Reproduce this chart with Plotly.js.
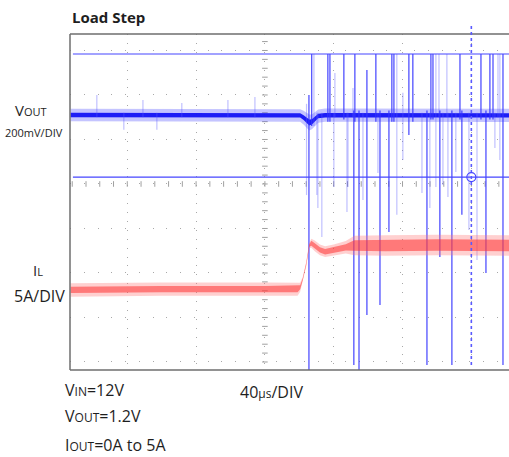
<!DOCTYPE html>
<html>
<head>
<meta charset="utf-8">
<script src="https://cdn.plot.ly/plotly-3.0.1.min.js"></script>
<style>html,body{margin:0;padding:0;background:#fff;}#chart{width:509px;height:457px;}</style>
</head>
<body>
<div id="chart"></div>
<script>
// ---- Data (time in µs, Vout in V, IL in A) ----
const voutT      = [-113, -60, 0, 18, 20.5, 22.5, 24.5, 25.8, 27.3, 29, 31, 35, 60, 100, 142];
const voutMid    = [1.200, 1.200, 1.200, 1.200, 1.198, 1.188, 1.174, 1.166, 1.169, 1.182, 1.195, 1.199, 1.198, 1.199, 1.198];
const voutOuter  = [0.028, 0.028, 0.028, 0.028, 0.028, 0.031, 0.033, 0.036, 0.033, 0.031, 0.030, 0.030, 0.030, 0.030, 0.030];
const voutCore   = [0.010, 0.010, 0.010, 0.010, 0.010, 0.011, 0.012, 0.013, 0.012, 0.011, 0.010, 0.010, 0.010, 0.010, 0.010];

const ilT        = [-113, -60, 0, 19, 20.5, 22, 24, 25.8, 27, 29, 32, 35, 40, 47, 52, 70, 100, 142];
const ilMid      = [0.0, 0.1, 0.1, 0.1, 0.3, 1.2, 2.9, 5.0, 5.25, 4.95, 4.5, 4.3, 4.5, 4.8, 5.0, 5.0, 5.05, 5.0];
const ilOuter    = [0.75, 0.75, 0.75, 0.75, 0.5, 0.25, 0.25, 0.3, 0.5, 0.6, 0.6, 0.6, 0.6, 0.7, 1.1, 1.15, 1.15, 1.15];
const ilCore     = [0.35, 0.35, 0.35, 0.35, 0.22, 0.12, 0.12, 0.15, 0.28, 0.3, 0.3, 0.3, 0.3, 0.35, 0.6, 0.65, 0.65, 0.65];

// strong switching spikes on Vout
const spikeT  = [25.6, 27.2, 36.6, 37.8, 45.9, 51.7, 52.3, 54.7, 59.3, 64.5, 66.9, 72.1, 73.8, 75.0, 83.7, 86.0, 94.2, 96.5, 97.7, 101.7, 108.7, 113.4, 114.5, 125.6, 128.5, 130.8, 132.6, 138.4];
const spikeHi = [1.290, 1.474, 1.474, 1.474, 1.474, 1.22, 1.474, 1.22, 1.402, 1.474, 1.22, 1.22, 1.474, 1.474, 1.474, 1.474, 1.22, 1.474, 1.474, 1.22, 1.22, 1.474, 1.22, 1.474, 1.22, 1.474, 1.474, 1.474];
const spikeLo = [0.054, 1.15, 1.17, 1.17, 1.18, 0.0765, 1.17, 0.054, 0.301, 1.17, 0.346, 0.674, 1.17, 1.17, 1.110, 1.17, 0.0765, 1.18, 1.18, 0.562, 0.0765, 1.18, 0.751, 1.18, 0.490, 1.18, 1.18, 0.0765];
// faint spikes on Vout
const faintT  = [-97.7, -82.0, -70.9, -62.8, -48.3, -21.5, -5.8, 24.2, 28.5, 30.2, 30.8, 33.1, 40.1, 40.7, 47.7, 48.3, 51.2, 57.0, 65.7, 76.7, 80.2, 91.3, 95.9, 99.4, 101.2, 103.5, 105.8, 106.4, 111.0, 118.6, 123.3, 133.7, 135.5, 136.6];
const faintHi = [1.290, 1.21, 1.267, 1.21, 1.254, 1.267, 1.281, 1.25, 1.474, 1.21, 1.21, 1.21, 1.21, 1.389, 1.21, 1.21, 1.321, 1.21, 1.21, 1.474, 1.30, 1.21, 1.21, 1.474, 1.474, 1.21, 1.474, 1.21, 1.21, 1.21, 1.21, 1.21, 1.474, 1.474];
const faintLo = [1.19, 1.133, 1.19, 1.133, 1.19, 1.19, 1.19, 0.84, 1.15, 0.84, 0.782, 0.652, 0.876, 1.19, 0.764, 0.876, 1.19, 0.818, 0.939, 0.751, 0.998, 0.849, 0.782, 0.876, 1.19, 0.885, 1.19, 0.831, 0.944, 0.683, 0.548, 1.052, 1.19, 0.998];

// cursors
const cursorV = [1.474, 0.921];   // horizontal cursors (V)
const cursorT = 120;              // vertical cursor (µs)

// ---- helpers ----
const add = (a, b, s) => a.map((v, i) => v + s * b[i]);
function segs(t, hi, lo) {
  const x = [], y = [];
  t.forEach((v, i) => { x.push(v, v, null); y.push(hi[i], lo[i], null); });
  return {x, y};
}
function band(t, mid, hw, yaxis, color) {
  return [
    {x: t, y: add(mid, hw, -1), yaxis, type: 'scatter', mode: 'lines', line: {width: 0}, hoverinfo: 'skip'},
    {x: t, y: add(mid, hw, 1), yaxis, type: 'scatter', mode: 'lines', line: {width: 0}, fill: 'tonexty', fillcolor: color, hoverinfo: 'skip'}
  ];
}

// graticule centre ticks (decoration)
const cvY = [], cvX = [];
for (let d = -4.2; d <= 3.61; d += 0.2) { cvY.push(d); cvX.push(0); }
const chX = [], chY = [];
for (let t = -112; t <= 142; t += 8) { chX.push(t); chY.push(0); }

const sp = segs(spikeT, spikeHi, spikeLo);
const fs = segs(faintT, faintHi, faintLo);

const traces = [
  {x: cvX, y: cvY, type: 'scatter', mode: 'markers', cliponaxis: false,
   marker: {symbol: 'line-ew', size: 4, line: {width: 1, color: '#a0a0a0'}}, hoverinfo: 'skip'},
  {x: chX, y: chY, type: 'scatter', mode: 'markers',
   marker: {symbol: 'line-ns', size: 4, line: {width: 1, color: '#a0a0a0'}}, hoverinfo: 'skip'},
  {x: [-80, -40, 40, 80], y: [3.57, 3.57, 3.57, 3.57], type: 'scatter', mode: 'markers', cliponaxis: false,
   marker: {symbol: 'square', size: 1.5, color: '#aaa'}, hoverinfo: 'skip'},
  ...band(ilT, ilMid, ilOuter, 'y3', 'rgba(255,120,120,0.35)'),
  ...band(ilT, ilMid, ilCore, 'y3', 'rgba(255,50,50,0.55)'),
  ...band(voutT, voutMid, voutOuter, 'y2', 'rgba(60,60,255,0.3)'),
  ...band(voutT, voutMid, voutCore, 'y2', 'rgba(20,20,245,0.95)'),
  {x: fs.x, y: fs.y, yaxis: 'y2', type: 'scatter', mode: 'lines', connectgaps: false,
   line: {width: 1.2, color: 'rgba(90,90,255,0.38)'}, hoverinfo: 'skip'},
  {x: sp.x, y: sp.y, yaxis: 'y2', type: 'scatter', mode: 'lines', connectgaps: false,
   line: {width: 1.3, color: 'rgba(50,50,255,0.85)'}, hoverinfo: 'skip'}
];

const W = 509, H = 457, L = 70, T = 34, B = 87;
const pw = W - L, ph = H - T - B;
const px = v => (v - L) / pw;
const py = v => (H - B - v) / ph;

const txt = '#1e1e1e';
const ann = (text, x, y, size, extra) => Object.assign({
  text, xref: 'paper', yref: 'paper', x: px(x), y: py(y), xanchor: 'left', yanchor: 'middle',
  showarrow: false, font: {family: 'Open Sans, sans-serif', size, color: txt}
}, extra || {});
const sm = s => `<span style="font-size:12px">${s}</span>`;

const layout = {
  width: W, height: H,
  margin: {l: L, r: 0, t: T, b: B},
  paper_bgcolor: '#fff', plot_bgcolor: '#fff',
  showlegend: false,
  xaxis: {range: [-113.3, 141.9], tick0: 0, dtick: 40, showticklabels: false, ticks: '',
          showgrid: true, gridcolor: '#a8a8a8', gridwidth: 1, griddash: '1px,7.9px', zeroline: false, showline: false},
  yaxis: {range: [-4.18, 3.37], tick0: 0, dtick: 1, showticklabels: false, ticks: '',
          showgrid: true, gridcolor: '#a8a8a8', gridwidth: 1, griddash: '1px,12.76px', zeroline: false, showline: false},
  yaxis2: {overlaying: 'y', range: [0.0538, 1.5638], visible: false},
  yaxis3: {overlaying: 'y', range: [-8.99, 28.76], visible: false},
  shapes: [
    // frame
    {type: 'line', xref: 'paper', yref: 'paper', x0: 0, x1: 0, y0: 0, y1: 1, line: {color: '#6e6e6e', width: 1.5}},
    {type: 'line', xref: 'paper', yref: 'paper', x0: 0, x1: 1, y0: 1, y1: 1, line: {color: '#6e6e6e', width: 1.5}},
    {type: 'line', xref: 'paper', yref: 'paper', x0: 0, x1: 1, y0: 0, y1: 0, line: {color: '#6e6e6e', width: 1.5}},
    // cursors
    {type: 'line', xref: 'x', yref: 'y2', x0: -111.6, x1: 141.9, y0: cursorV[0], y1: cursorV[0], line: {color: 'rgb(70,70,255)', width: 1.2}, layer: 'above'},
    {type: 'line', xref: 'x', yref: 'y2', x0: -111.6, x1: 141.9, y0: cursorV[1], y1: cursorV[1], line: {color: 'rgb(70,70,255)', width: 1.2}, layer: 'above'},
    {type: 'line', xref: 'x', yref: 'paper', x0: cursorT, x1: cursorT, y0: py(365), y1: py(23), line: {color: 'rgb(90,90,255)', width: 1.6, dash: 'dot'}, layer: 'above'},
    {type: 'circle', xref: 'x', yref: 'y2', xsizemode: 'pixel', ysizemode: 'pixel', xanchor: cursorT, yanchor: cursorV[1],
     x0: -4.5, x1: 4.5, y0: -4.5, y1: 4.5, line: {color: 'rgb(70,70,255)', width: 1.2}, layer: 'above'}
  ],
  annotations: [
    ann('<b>Load Step</b>', 70, 17, 15),
    ann('V<span style="font-size:11px">OUT</span>', 13, 110, 15),
    ann('200mV/DIV', 3, 132, 11),
    ann('I<span style="font-size:11px">L</span>', 31, 270, 15),
    ann('5A/DIV', 12, 296, 16),
    ann('V' + sm('IN') + '=12V', 63, 390, 16),
    ann('V' + sm('OUT') + '=1.2V', 63, 416, 16),
    ann('I' + sm('OUT') + '=0A to 5A', 63, 445, 16),
    ann('40' + sm('µs') + '/DIV', 238, 392, 16)
  ]
};

Plotly.newPlot('chart', traces, layout, {staticPlot: true, displayModeBar: false});
</script>
</body>
</html>
